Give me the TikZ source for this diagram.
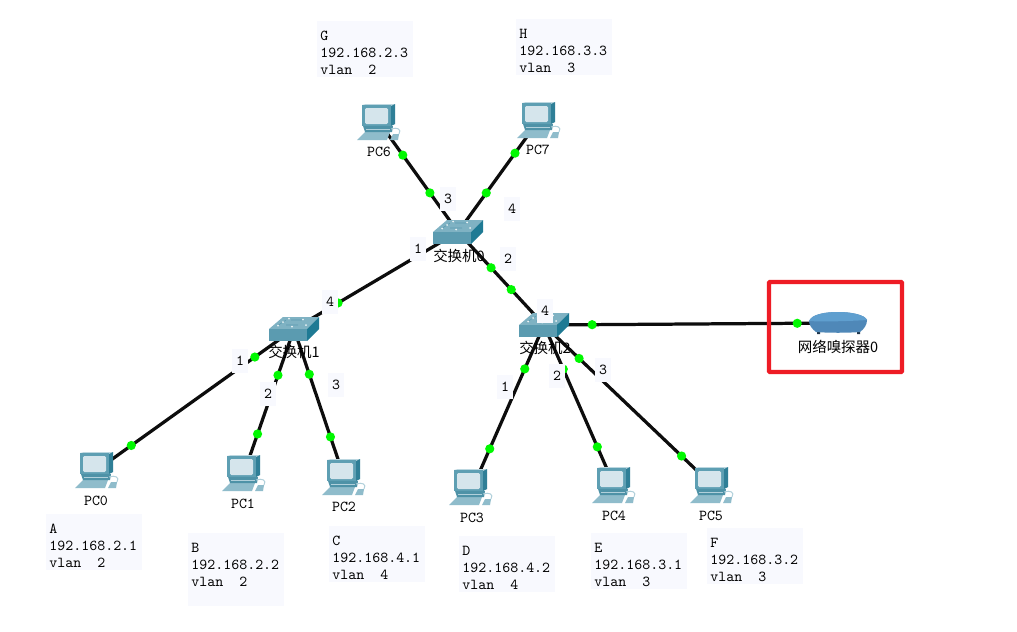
\documentclass[tikz,border=0pt]{standalone}
\usepackage{fontspec}
\newfontfamily\cjkfont{Noto Sans CJK SC}
\definecolor{boxbg}{HTML}{F8F9FE}
\definecolor{portgreen}{HTML}{00F800}
\definecolor{framered}{HTML}{EE1C25}
\definecolor{pcframe}{HTML}{5E9FB3}
\definecolor{pcdark}{HTML}{2F7F97}
\definecolor{pcscreen}{HTML}{D5E5EC}
\definecolor{pclight}{HTML}{8FBCCB}
\definecolor{swfront}{HTML}{5B9BB0}
\definecolor{swtop}{HTML}{7FB2C3}
\definecolor{swside}{HTML}{1F7A94}
\definecolor{snifftop}{HTML}{5F9FCF}
\definecolor{snifflow}{HTML}{4F88B8}
\tikzset{
    device/.style={inner sep=0pt,minimum size=0pt},
    link/.style={line width=2.3pt,draw=black!95},
    portdot/.style={circle,fill=portgreen,inner sep=0pt,minimum size=0.23cm},
    portlabel/.style={fill=boxbg,inner sep=0pt,minimum width=0.4cm,minimum height=0.62cm,font=\ttfamily\fontsize{10.8}{12}\selectfont},
    infobox/.style={anchor=north west,fill=boxbg,align=left,inner xsep=0.08cm,inner ysep=0.08cm,
        text width=2.24cm,font=\ttfamily\fontsize{10.8}{12}\selectfont,
        execute at begin node=\rule{0pt}{0.395cm}},
    devlabel/.style={inner sep=0pt,font=\ttfamily\fontsize{10.8}{12}\selectfont},
    cjklabel/.style={inner sep=0pt,font=\cjkfont\fontsize{10.3}{12}\selectfont},
    pcicon/.pic={
        \fill[pclight] (-14,10) -- (11,10) -- (8,18) -- (-22,18) -- cycle;
        \fill[pcdark!85] (-16,4) -- (14,4) -- (13,10) -- (-14,10) -- cycle;
        \fill[pclight!70] (-13,7) rectangle (11,8);
        \fill[pclight] (14,12) -- (20,12) -- (19,18) -- (11,18) -- cycle;
        \draw[pclight!70,line width=0.7pt] (12,7) .. controls (18,5) and (23,7) .. (20,12);
        \fill[pclight!60] (-17,-17) -- (-13,-18) -- (16,-18) -- (12,-16) -- cycle;
        \fill[pcdark] (12,-16) -- (16,-18) -- (16,2) -- (12,4) -- cycle;
        \fill[pcframe] (-17,-17) rectangle (12,4);
        \fill[pcscreen,rounded corners=1pt] (-14,-14) rectangle (9,2);
    },
    swicon/.pic={
        \fill[swtop] (-25,0) -- (-11,-12) -- (25,-12) -- (13,0) -- cycle;
        \fill[swfront] (-25,0) rectangle (13,12);
        \fill[swside] (13,0) -- (25,-12) -- (25,0) -- (13,12) -- cycle;
        \draw[swfront,line width=0.4pt] (-17,-3) -- (-8,-9) (-8,-4) -- (4,-4) (-3,-9) -- (10,-9);
        \fill[white!85!swtop] (-16,-3.5) circle (1) (-5,-10.5) circle (1) (-2,-2.5) circle (1)
            (9,-9.5) circle (1) (12,-4) circle (1) (-11,-7) circle (1);
    },
    sniffericon/.pic={
        \fill[black!60!snifflow] (-21,9) rectangle (-18,11) (19,9) rectangle (22,11);
        \fill[snifflow] (-29,-2) .. controls (-26,-9) and (-12,-11) .. (0,-11)
            .. controls (14,-11) and (27,-8) .. (29,-3)
            .. controls (29,2) and (26,6) .. (22,9) .. controls (10,10) and (-10,10) .. (-22,9)
            .. controls (-26,6) and (-29,2) .. (-29,-2) -- cycle;
        \fill[snifftop] (-29,-2) .. controls (-26,-9) and (-12,-11) .. (0,-11)
            .. controls (14,-11) and (27,-8) .. (29,-3)
            .. controls (14,-2) and (-14,-1) .. (-29,-2) -- cycle;
    }
}
\begin{document}
\begin{tikzpicture}[x=0.025cm,y=-0.025cm]
    \fill[white] (0,0) rectangle (1017,631);
    \useasboundingbox (0,0) rectangle (1017,631);

    \node[device] (sw0) at (458,232) {};
    \node[device] (sw1) at (294,329) {};
    \node[device] (sw2) at (544,325) {};
    \node[device] (pc0) at (97,470) {};
    \node[device] (pc1) at (244,473) {};
    \node[device] (pc2) at (344,477) {};
    \node[device] (pc3) at (473,487) {};
    \node[device] (pc4) at (614,485) {};
    \node[device] (pc5) at (712,485) {};
    \node[device] (pc6) at (379,122) {};
    \node[device] (pc7) at (539,120) {};
    \node[device] (sniffer) at (838,323) {};

    \draw[link] (pc6) -- (sw0) node[portdot,pos=0.30] (p6a) {} node[portdot,pos=0.645] (p6b) {};
    \draw[link] (pc7) -- (sw0) node[portdot,pos=0.295] (p7a) {} node[portdot,pos=0.652] (p7b) {};
    \draw[link] (sw0) -- (sw1) node[portdot,pos=0.244] (s01a) {} node[portdot,pos=0.732] (s01b) {};
    \draw[link] (sw0) -- (sw2) node[portdot,pos=0.384] (s02a) {} node[portdot,pos=0.62] (s02b) {};
    \draw[link] (sw1) -- (pc0) node[portdot,pos=0.198] (p0a) {} node[portdot,pos=0.827] (p0b) {};
    \draw[link] (sw1) -- (pc1) node[portdot,pos=0.32] (p1a) {} node[portdot,pos=0.73] (p1b) {};
    \draw[link] (sw1) -- (pc2) node[portdot,pos=0.305] (p2a) {} node[portdot,pos=0.73] (p2b) {};
    \draw[link] (sw2) -- (pc3) node[portdot,pos=0.27] (p3a) {} node[portdot,pos=0.765] (p3b) {};
    \draw[link] (sw2) -- (pc4) node[portdot,pos=0.275] (p4a) {} node[portdot,pos=0.7625] (p4b) {};
    \draw[link] (sw2) -- (pc5) node[portdot,pos=0.208] (p5a) {} node[portdot,pos=0.82] (p5b) {};
    \draw[link] (sw2) -- (sniffer) node[portdot,pos=0.163] (sna) {} node[portdot,pos=0.862] (snb) {};

    \pic at (sw0) {swicon};
    \pic at (sw1) {swicon};
    \pic at (sw2) {swicon};
    \pic at (pc0) {pcicon};
    \pic at (pc1) {pcicon};
    \pic at (pc2) {pcicon};
    \pic at (471,487) {pcicon};
    \pic at (pc4) {pcicon};
    \pic at (pc5) {pcicon};
    \pic at (pc6) {pcicon};
    \pic at (pc7) {pcicon};
    \pic at (sniffer) {sniffericon};

    \draw[framered,line width=2.9pt,rounded corners=0.5pt] (769,282) rectangle (902,372);

    \node[cjklabel] (sw0name) at (459,256) {交换机0};
    \node[cjklabel] (sw1name) at (294,352) {交换机1};
    \node[cjklabel] (sw2name) at (545,348) {交换机2};
    \node[cjklabel] (sniffname) at (838,347) {网络嗅探器0};
    \node[devlabel] (pc0name) at (96,501) {PC0};
    \node[devlabel] (pc1name) at (243,504) {PC1};
    \node[devlabel] (pc2name) at (344,507) {PC2};
    \node[devlabel] (pc3name) at (472,518) {PC3};
    \node[devlabel] (pc4name) at (614,516) {PC4};
    \node[devlabel] (pc5name) at (711,516) {PC5};
    \node[devlabel] (pc6name) at (379,152) {PC6};
    \node[devlabel] (pc7name) at (538,150) {PC7};

    \node[portlabel] (sw0p3) at (448,199) {3};
    \node[portlabel] (sw0p4) at (512,209) {4};
    \node[portlabel] (sw0p1) at (418,249) {1};
    \node[portlabel] (sw0p2) at (508,259) {2};
    \node[portlabel] (sw1p4) at (330,302) {4};
    \node[portlabel] (sw1p1) at (240,361) {1};
    \node[portlabel] (sw1p2) at (268,394) {2};
    \node[portlabel] (sw1p3) at (336,385) {3};
    \node[portlabel] (sw2p4) at (545,311) {4};
    \node[portlabel] (sw2p1) at (505,387) {1};
    \node[portlabel] (sw2p2) at (557,376) {2};
    \node[portlabel] (sw2p3) at (603,370) {3};

    \node[infobox] (infoA) at (46,514) {A\\192.168.2.1\\vlan\hspace{0.4cm}2};
    \node[infobox] (infoB) at (188,533) {B\\192.168.2.2\\vlan\hspace{0.4cm}2\\\mbox{}};
    \node[infobox] (infoC) at (329,526) {C\\192.168.4.1\\vlan\hspace{0.4cm}4};
    \node[infobox] (infoD) at (459,536) {D\\192.168.4.2\\vlan\hspace{0.4cm}4};
    \node[infobox] (infoE) at (591,533) {E\\192.168.3.1\\vlan\hspace{0.4cm}3};
    \node[infobox] (infoF) at (707,528) {F\\192.168.3.2\\vlan\hspace{0.4cm}3};
    \node[infobox] (infoG) at (317,21) {G\\192.168.2.3\\vlan\hspace{0.4cm}2};
    \node[infobox] (infoH) at (516,19) {H\\192.168.3.3\\vlan\hspace{0.4cm}3};
\end{tikzpicture}
\end{document}
